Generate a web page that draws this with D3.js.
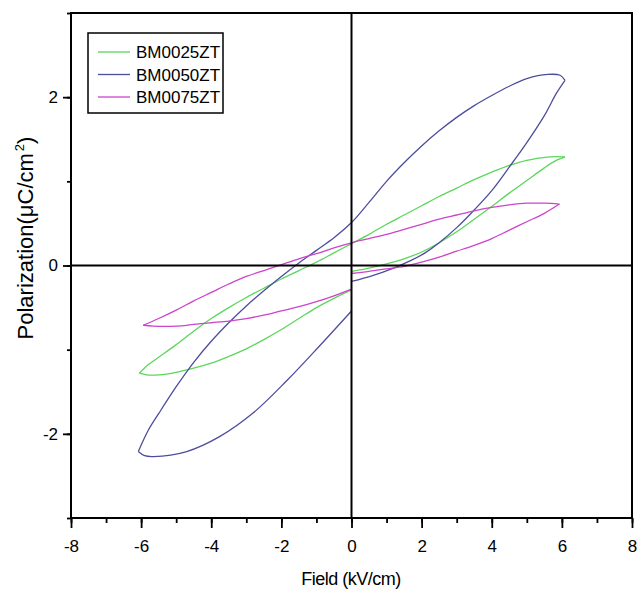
<!DOCTYPE html>
<html>
<head>
<meta charset="utf-8">
<script src="https://cdn.jsdelivr.net/npm/d3@7"></script>
<style>
  body { margin: 0; background: #fff; }
  text { font-family: "Liberation Sans", Arial, sans-serif; fill: #000; }
</style>
</head>
<body>
<svg width="637" height="590"></svg>
<script>
// series names and colours
var seriesNames = ["BM0025ZT", "BM0050ZT", "BM0075ZT"];
var seriesColors = ["#5cd65c", "#4d4d9e", "#cc44cc"];

// loops as [field kV/cm, polarization uC/cm2]
// each loop is split in upper branch, lower branch left of 0 and right of 0
var bm025Up = [[6.09,1.29],[5.66,1.29],[5.0,1.25],[4.5,1.19],[4.0,1.11],[3.5,1.02],[3.0,0.92],[2.5,0.82],[2.0,0.71],[1.5,0.60],[1.0,0.49],[0.5,0.37],[0,0.26],[-0.5,0.15],[-1.0,0.04],[-1.5,-0.06],[-2.0,-0.16],[-2.5,-0.27],[-3.0,-0.38],[-3.5,-0.50],[-4.0,-0.63],[-4.5,-0.78],[-5.0,-0.94],[-5.5,-1.09],[-5.8,-1.18],[-6.05,-1.28]];
var bm025LowL = [[-6.05,-1.28],[-5.85,-1.30],[-5.5,-1.30],[-5.0,-1.27],[-4.5,-1.22],[-4.0,-1.16],[-3.5,-1.08],[-3.0,-0.99],[-2.5,-0.88],[-2.0,-0.76],[-1.5,-0.63],[-1.0,-0.50],[-0.5,-0.39],[0,-0.29]];
var bm025LowR = [[0,-0.07],[0.5,-0.03],[1.0,0.02],[1.5,0.08],[2.0,0.16],[2.5,0.27],[3.0,0.40],[3.5,0.55],[4.0,0.70],[4.5,0.86],[5.0,1.01],[5.5,1.16],[5.8,1.24],[6.09,1.29]];

var bm050Up = [[6.09,2.20],[5.95,2.26],[5.6,2.27],[5.0,2.22],[4.5,2.13],[4.0,2.02],[3.5,1.90],[3.0,1.76],[2.5,1.60],[2.0,1.42],[1.5,1.22],[1.0,1.00],[0.5,0.75],[0,0.51],[-0.5,0.33],[-1.0,0.18],[-1.5,0.03],[-2.0,-0.13],[-2.5,-0.30],[-3.0,-0.48],[-3.5,-0.68],[-4.0,-0.90],[-4.5,-1.15],[-5.0,-1.44],[-5.5,-1.76],[-5.8,-1.96],[-6.08,-2.21]];
var bm050LowL = [[-6.08,-2.21],[-5.9,-2.26],[-5.65,-2.27],[-4.7,-2.21],[-3.75,-2.03],[-2.8,-1.75],[-1.85,-1.37],[-0.9,-0.95],[0,-0.54]];
var bm050LowR = [[0,-0.19],[0.6,-0.12],[1.2,-0.03],[1.7,0.06],[2.1,0.15],[2.5,0.27],[3.0,0.45],[3.5,0.66],[4.0,0.89],[4.5,1.17],[5.0,1.46],[5.5,1.78],[5.85,2.05],[6.09,2.20]];

var bm075Up = [[5.93,0.73],[5.5,0.74],[5.0,0.74],[4.5,0.72],[4.0,0.69],[3.5,0.65],[3.0,0.60],[2.5,0.55],[2.0,0.49],[1.5,0.43],[1.0,0.37],[0.5,0.32],[0,0.27],[-0.5,0.21],[-1.0,0.14],[-1.5,0.08],[-2.0,0.01],[-2.5,-0.06],[-3.0,-0.13],[-3.5,-0.22],[-4.0,-0.32],[-4.5,-0.42],[-5.0,-0.53],[-5.5,-0.63],[-5.94,-0.71]];
var bm075LowL = [[-5.94,-0.71],[-5.65,-0.72],[-5.0,-0.72],[-4.5,-0.70],[-4.0,-0.68],[-3.5,-0.66],[-3.0,-0.63],[-2.5,-0.59],[-2.0,-0.54],[-1.5,-0.49],[-1.0,-0.43],[-0.5,-0.36],[0,-0.28]];
var bm075LowR = [[0,-0.095],[0.5,-0.07],[1.0,-0.04],[1.5,-0.01],[2.0,0.04],[2.5,0.10],[3.0,0.17],[3.5,0.24],[4.0,0.32],[4.5,0.42],[5.0,0.52],[5.5,0.62],[5.93,0.73]];

// tick values
var xTicks = [-8, -6, -4, -2, 0, 2, 4, 6, 8];
var xMinorTicks = d3.range(-8, 9, 1);
var yTicks = [-2, 0, 2];
var yMinorTicks = d3.range(-3, 4, 1);

var loops = [
  [bm025Up, bm025LowL, bm025LowR],
  [bm050Up, bm050LowL, bm050LowR],
  [bm075Up, bm075LowL, bm075LowR]
];

var svg = d3.select("svg");

// plot area
var plotLeft = 71, plotRight = 632, plotTop = 13, plotBottom = 518;

var x = d3.scaleLinear().domain([-8, 8]).range([plotLeft, plotRight]);
var y = d3.scaleLinear().domain([-3, 3]).range([plotBottom, plotTop]);

var line = d3.line()
  .x(function (d) { return x(d[0]); })
  .y(function (d) { return y(d[1]); })
  .curve(d3.curveCatmullRom.alpha(0.5));

// drawing the loops
loops.forEach(function (branches, i) {
  svg.append("g")
    .selectAll("path")
    .data(branches)
    .enter().append("path")
    .attr("d", line)
    .attr("fill", "none")
    .attr("stroke", seriesColors[i])
    .attr("stroke-width", 1.3);
});

// frame and zero lines
svg.append("rect")
  .attr("x", plotLeft)
  .attr("y", plotTop)
  .attr("width", plotRight - plotLeft)
  .attr("height", plotBottom - plotTop)
  .attr("fill", "none")
  .attr("stroke", "#000")
  .attr("stroke-width", 2);

svg.append("line")
  .attr("x1", x(0)).attr("x2", x(0))
  .attr("y1", plotTop).attr("y2", plotBottom)
  .attr("stroke", "#000").attr("stroke-width", 2);

svg.append("line")
  .attr("x1", plotLeft).attr("x2", plotRight)
  .attr("y1", y(0)).attr("y2", y(0))
  .attr("stroke", "#000").attr("stroke-width", 2);

// x axis, minor then major ticks
svg.append("g")
  .attr("transform", "translate(0," + plotBottom + ")")
  .call(d3.axisBottom(x).tickValues(xMinorTicks).tickSize(5).tickFormat(""));

svg.append("g")
  .attr("transform", "translate(0," + plotBottom + ")")
  .call(d3.axisBottom(x).tickValues(xTicks).tickSize(10).tickPadding(12)
    .tickFormat(function (d) { return d < 0 ? "-" + Math.abs(d) : d; }));

// y axis
svg.append("g")
  .attr("transform", "translate(" + plotLeft + ",0)")
  .call(d3.axisLeft(y).tickValues(yMinorTicks).tickSize(4).tickFormat(""));

svg.append("g")
  .attr("transform", "translate(" + plotLeft + ",0)")
  .call(d3.axisLeft(y).tickValues(yTicks).tickSize(8).tickPadding(5)
    .tickFormat(function (d) { return d < 0 ? "-" + Math.abs(d) : d; }));

svg.selectAll(".domain").remove();
svg.selectAll(".tick line").attr("stroke", "#000").attr("stroke-width", 1.8);
svg.selectAll(".tick text")
  .style("font-family", "'Liberation Sans', Arial, sans-serif")
  .style("font-size", "17px")
  .attr("fill", "#000");

// axis titles
svg.append("text")
  .attr("x", 351)
  .attr("y", 585)
  .attr("text-anchor", "middle")
  .style("font-size", "18px")
  .style("letter-spacing", "-0.5px")
  .text("Field (kV/cm)");

var yTitle = svg.append("text")
  .attr("transform", "translate(33,238) rotate(-90)")
  .attr("text-anchor", "middle")
  .style("font-size", "22px");
yTitle.append("tspan").text("Polarization(\u03bcC/cm");
yTitle.append("tspan").attr("dy", -9).attr("dx", 2).style("font-size", "13px").text("2");
yTitle.append("tspan").attr("dy", 9).text(")");

// legend box
var legend = svg.append("g");
legend.append("rect")
  .attr("x", 88)
  .attr("y", 33)
  .attr("width", 135)
  .attr("height", 80)
  .attr("fill", "#fff")
  .attr("stroke", "#000")
  .attr("stroke-width", 1.5);

var rows = legend.selectAll("g.row")
  .data(seriesNames)
  .enter().append("g")
  .attr("class", "row")
  .attr("transform", function (d, i) { return "translate(0," + (52 + i * 22.5) + ")"; });

rows.append("line")
  .attr("x1", 98).attr("x2", 130)
  .attr("y1", 0).attr("y2", 0)
  .attr("stroke", function (d, i) { return seriesColors[i]; })
  .attr("stroke-width", 1.3);

rows.append("text")
  .attr("x", 136)
  .attr("y", 6)
  .style("font-size", "17px")
  .text(function (d) { return d; });
</script>
</body>
</html>
